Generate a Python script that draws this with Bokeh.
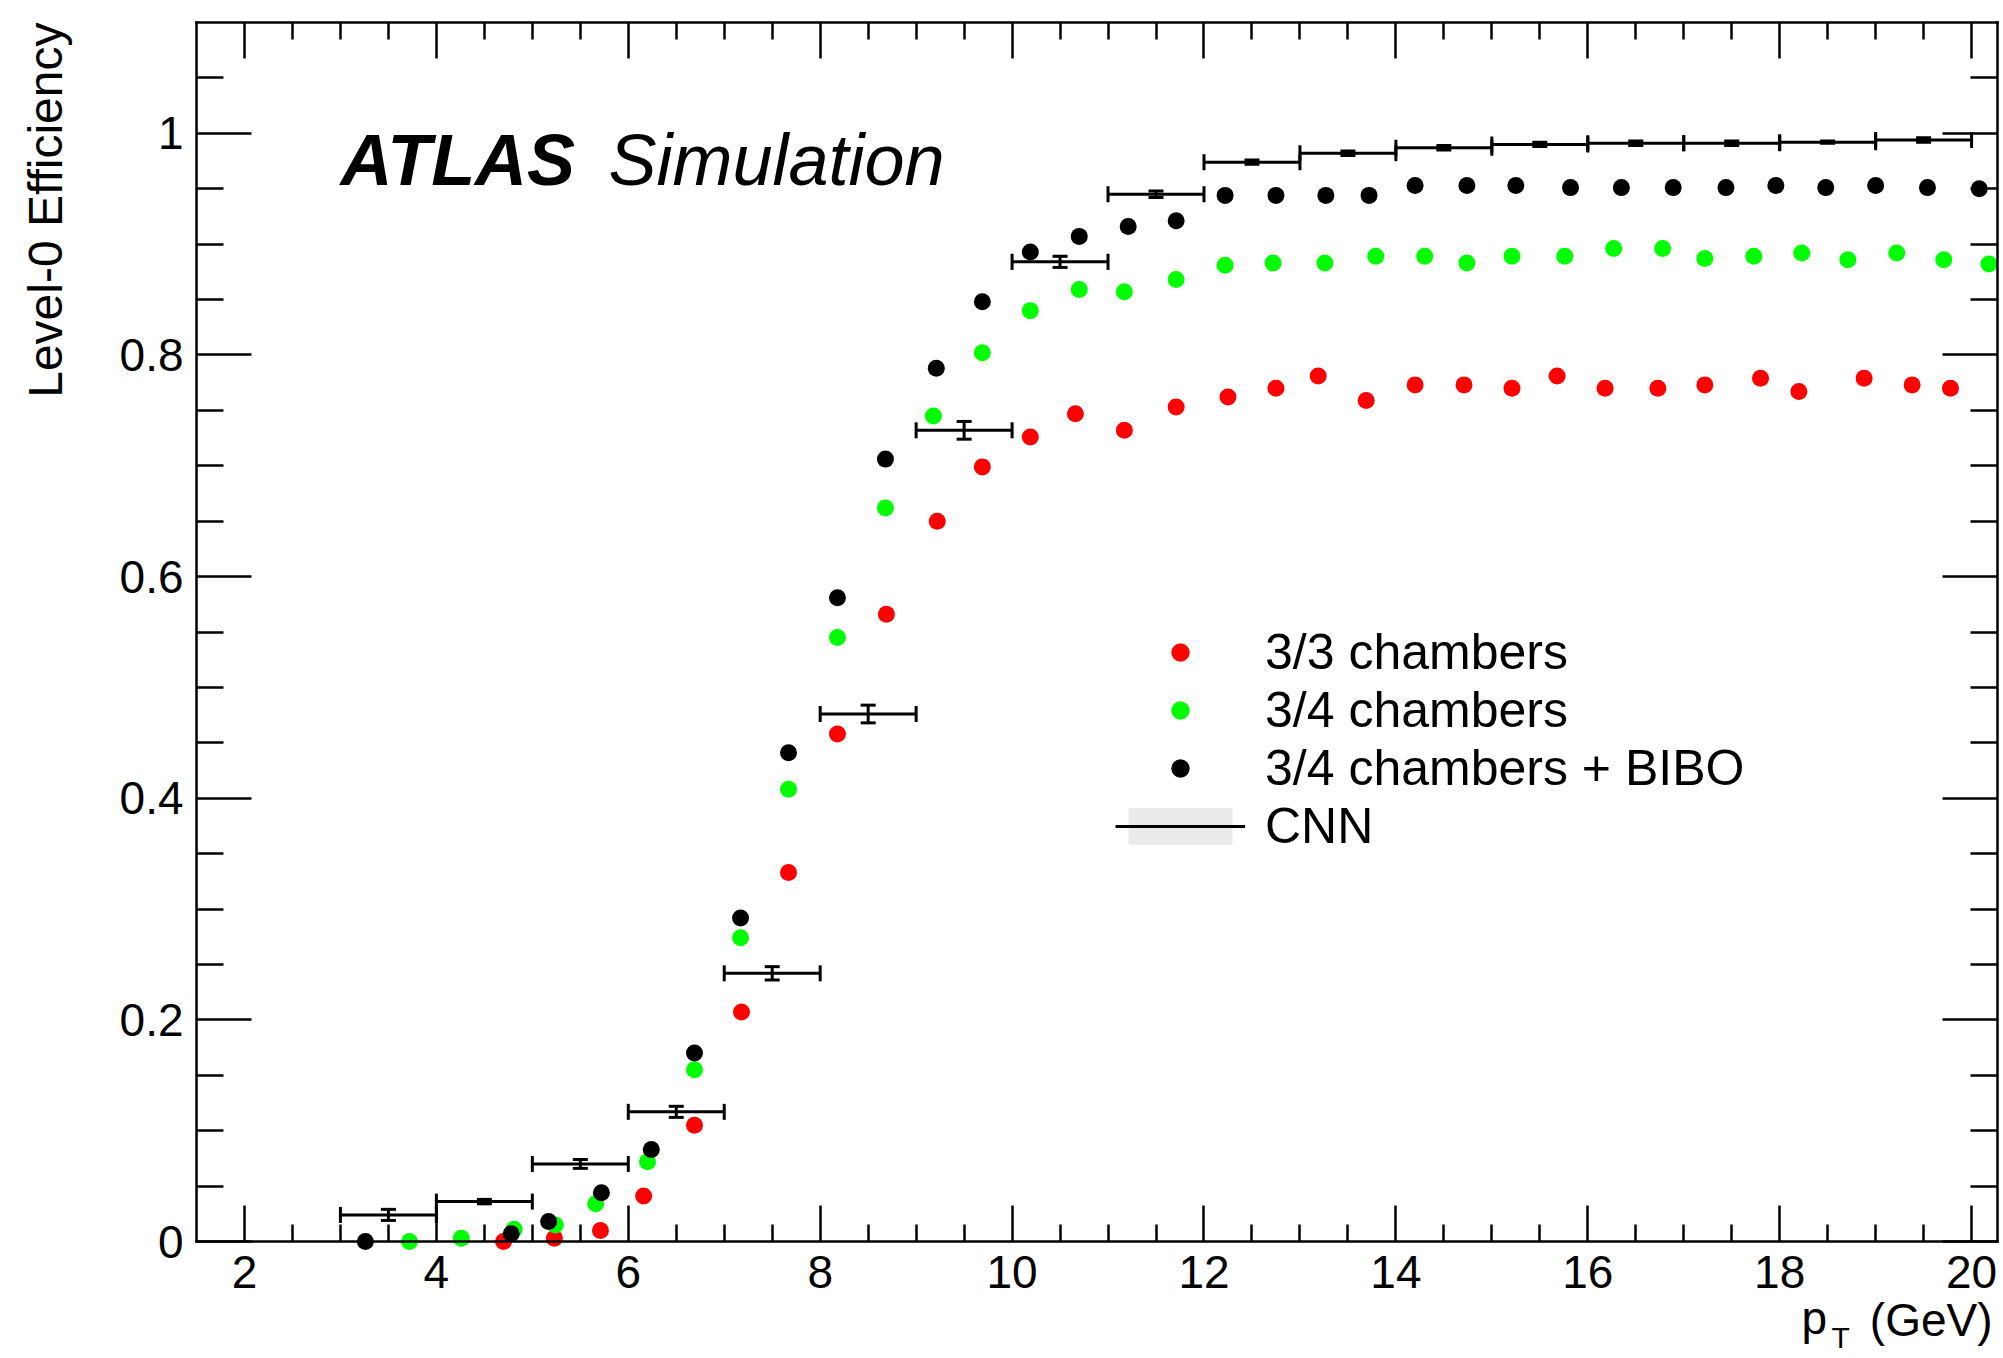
import math
from bokeh.plotting import figure
from bokeh.models import Range1d, FixedTicker, LinearAxis, Label, Legend, LegendItem
from bokeh.embed import file_html
from bokeh.resources import INLINE

# ---------------- data ----------------
x_33 = [4.70, 5.23, 5.71, 6.16, 6.69, 7.18, 7.67, 8.18, 8.69, 9.22, 9.69, 10.19, 10.66,
        11.17, 11.71, 12.25, 12.75, 13.19, 13.69, 14.20, 14.71, 15.21, 15.68, 16.18,
        16.73, 17.22, 17.80, 18.20, 18.88, 19.38, 19.78]
eff_33 = [0.000, 0.003, 0.010, 0.041, 0.105, 0.207, 0.333, 0.458, 0.566, 0.650, 0.699,
          0.726, 0.747, 0.732, 0.753, 0.762, 0.770, 0.781, 0.759, 0.773, 0.773, 0.770,
          0.781, 0.770, 0.770, 0.773, 0.779, 0.767, 0.779, 0.773, 0.770]

x_34 = [3.72, 4.26, 4.81, 5.24, 5.66, 6.20, 6.69, 7.17, 7.67, 8.18, 8.68, 9.18, 9.69,
        10.19, 10.70, 11.17, 11.71, 12.22, 12.72, 13.26, 13.79, 14.30, 14.74, 15.21,
        15.76, 16.27, 16.78, 17.22, 17.73, 18.23, 18.71, 19.22, 19.71, 20.18]
eff_34 = [0.000, 0.003, 0.011, 0.015, 0.034, 0.072, 0.155, 0.274, 0.408, 0.545, 0.662,
          0.745, 0.802, 0.840, 0.859, 0.857, 0.868, 0.881, 0.883, 0.883, 0.889, 0.889,
          0.883, 0.889, 0.889, 0.896, 0.896, 0.887, 0.889, 0.892, 0.886, 0.892, 0.886,
          0.882]

x_bibo = [3.26, 4.78, 5.17, 5.72, 6.24, 6.69, 7.17, 7.67, 8.18, 8.68, 9.21, 9.69, 10.19,
          10.70, 11.21, 11.71, 12.22, 12.75, 13.27, 13.72, 14.20, 14.74, 15.25, 15.82,
          16.35, 16.89, 17.44, 17.96, 18.48, 19.00, 19.54, 20.08]
eff_bibo = [0.000, 0.007, 0.018, 0.044, 0.083, 0.170, 0.292, 0.441, 0.581, 0.706, 0.788,
            0.848, 0.893, 0.907, 0.916, 0.921, 0.944, 0.944, 0.944, 0.944, 0.953, 0.953,
            0.953, 0.951, 0.951, 0.951, 0.951, 0.953, 0.951, 0.953, 0.951, 0.950]

cnn_lo = [3, 4, 5, 6, 7, 8, 9, 10, 11, 12, 13, 14, 15, 16, 17, 18, 19]
cnn_hi = [4, 5, 6, 7, 8, 9, 10, 11, 12, 13, 14, 15, 16, 17, 18, 19, 20]
cnn_eff = [0.024, 0.036, 0.070, 0.117, 0.242, 0.476, 0.732, 0.884, 0.945, 0.974, 0.982,
           0.987, 0.990, 0.991, 0.991, 0.992, 0.994]
cnn_err = [0.005, 0.002, 0.004, 0.005, 0.006, 0.008, 0.008, 0.005, 0.003, 0.002, 0.002,
           0.002, 0.002, 0.002, 0.002, 0.001, 0.002]

x_major = [2, 4, 6, 8, 10, 12, 14, 16, 18, 20]
y_major = [0, 0.2, 0.4, 0.6, 0.8, 1.0]
y_labels = ["0", "0.2", "0.4", "0.6", "0.8", "1"]

series_labels = ["3/3 chambers", "3/4 chambers", "3/4 chambers + BIBO", "CNN"]

# ---------------- layout ----------------
W, H = 2003, 1358
FL, FR, FT, FB = 196, 6, 22, 117          # where the drawn box sits inside the canvas
X0, X1 = 1.5, 20.27
Y0, Y1 = 0.0, 1.1
PPX = (W - FL - FR) / (X1 - X0)
PPY = (H - FB - FT) / (Y1 - Y0)
FONT = "Liberation Sans"


def dx(px):
    return X0 + (px - FL) / PPX


def dy(py):
    return Y0 + (H - FB - py) / PPY


p = figure(width=W, height=H,
           x_range=Range1d(dx(0), dx(W)), y_range=Range1d(dy(H), dy(0)),
           output_backend="svg", toolbar_location=None,
           x_axis_type=None, y_axis_type=None, min_border=0,
           min_border_left=0, min_border_right=0, min_border_top=0, min_border_bottom=0)
p.background_fill_color = "white"
p.border_fill_color = "white"
p.outline_line_color = None

x_minor = [v / 2 for v in range(4, 41) if v % 4 != 0]
y_minor = [round(v * 0.05, 2) for v in range(0, 22) if v % 4 != 0]
xt = FixedTicker(ticks=x_major, minor_ticks=x_minor)
yt = FixedTicker(ticks=y_major, minor_ticks=y_minor)


def make_axis(ticker, loc, bounds, tick_in, minor_in, labels, standoff=0):
    ax = LinearAxis(ticker=ticker, fixed_location=loc, bounds=bounds)
    ax.axis_line_color = "black"
    ax.axis_line_width = 2.5
    ax.axis_line_cap = "square"
    ax.major_tick_line_color = "black"
    ax.major_tick_line_width = 2.5
    ax.minor_tick_line_color = "black"
    ax.minor_tick_line_width = 2.5
    ax.major_tick_in = tick_in
    ax.major_tick_out = 0
    ax.minor_tick_in = minor_in
    ax.minor_tick_out = 0
    ax.major_label_text_font = FONT
    ax.major_label_text_color = "black"
    ax.major_label_text_font_size = "46px"
    ax.major_label_standoff = standoff
    ax.major_label_overrides = {t: s for t, s in zip(ticker.ticks, labels)}
    return ax


xb = make_axis(xt, Y0, (X0, X1), 36, 17, [str(t) for t in x_major], 14)
xa = make_axis(xt, Y1, (X0, X1), 36, 17, ["" for t in x_major])
yl = make_axis(yt, X0, (Y0, Y1), 55, 27, y_labels, 13)
yr = make_axis(yt, X1, (Y0, Y1), 55, 27, ["" for t in y_major])
p.add_layout(xb, "below")
p.add_layout(xa, "above")
p.add_layout(yl, "left")
p.add_layout(yr, "right")

# ---------------- CNN (bin-width bars with error bars) ----------------
cnn_c = [(a + b) / 2 for a, b in zip(cnn_lo, cnn_hi)]
cnn_dn = [e - s for e, s in zip(cnn_eff, cnn_err)]
cnn_up = [e + s for e, s in zip(cnn_eff, cnn_err)]

# band style used only by the legend entry (zero height in the plot, as in the reference)
band = p.quad(left=cnn_lo, right=cnn_hi, bottom=cnn_eff, top=cnn_eff,
              fill_color="#ebebeb", line_color=None)
bins = p.segment(x0=cnn_lo, y0=cnn_eff, x1=cnn_hi, y1=cnn_eff, line_color="black", line_width=3)
p.scatter(x=cnn_lo + cnn_hi, y=cnn_eff + cnn_eff, marker="dash", angle=math.pi / 2,
          size=16, line_color="black", line_width=3)
p.segment(x0=cnn_c, y0=cnn_dn, x1=cnn_c, y1=cnn_up, line_color="black", line_width=3)
p.scatter(x=cnn_c + cnn_c, y=cnn_dn + cnn_up, marker="dash", size=15,
          line_color="black", line_width=3)

# ---------------- points ----------------
r33 = p.scatter(x_33, eff_33, size=17, fill_color="#ff0000", line_color=None)
r34 = p.scatter(x_34, eff_34, size=17, fill_color="#00ff00", line_color=None)
rbb = p.scatter(x_bibo, eff_bibo, size=17, fill_color="#000000", line_color=None)

legend = Legend(items=[LegendItem(label=series_labels[0], renderers=[r33]),
                       LegendItem(label=series_labels[1], renderers=[r34]),
                       LegendItem(label=series_labels[2], renderers=[rbb]),
                       LegendItem(label=series_labels[3], renderers=[band, bins])],
                location=(1115, 503), orientation="vertical",
                glyph_width=130, glyph_height=46, label_height=42, spacing=0,
                label_standoff=20, padding=0, margin=0,
                border_line_color=None, background_fill_alpha=0,
                label_text_font=FONT, label_text_font_size="50px", label_text_color="black")
p.add_layout(legend)

# ---------------- texts ----------------
def text_label(px, py, text, size, style="normal", align="left", angle=0.0):
    return Label(x=dx(px), y=dy(py), text=text, text_font=FONT, text_font_style=style,
                 text_font_size=f"{size}px", text_align=align, text_baseline="alphabetic",
                 text_color="black", angle=angle)


p.add_layout(text_label(340, 159, "ATLAS", 72, "bold italic"))
p.add_layout(text_label(608, 159, "Simulation", 72, "italic"))
ylab = Label(x=dx(45), y=Y1, text="Level-0 Efficiency", angle=math.pi / 2,
             text_font=FONT, text_font_size="48px", text_align="right",
             text_baseline="alphabetic", text_color="black")
p.add_layout(ylab)
p.add_layout(text_label(1801, 1317, "p", 46))
p.add_layout(text_label(1831, 1337, "T", 30))
p.add_layout(text_label(1992, 1319, "(GeV)", 46, align="right"))

open("out.html", "w").write(file_html(p, INLINE))
